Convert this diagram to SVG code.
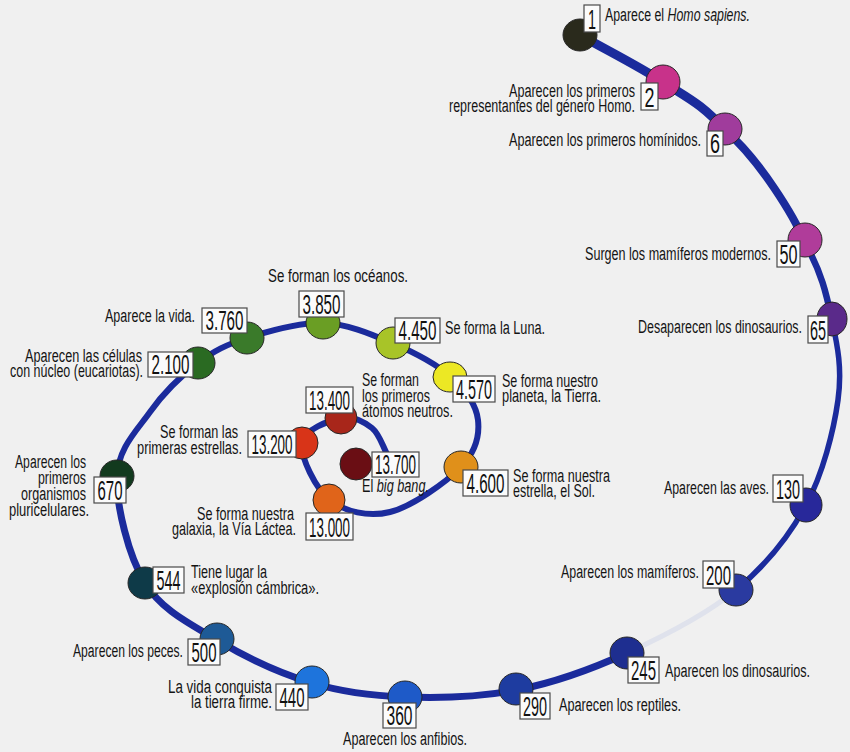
<svg xmlns="http://www.w3.org/2000/svg" width="850" height="752" viewBox="0 0 850 752">
<style>
.lbl{font-family:'Liberation Sans',Arial,sans-serif;font-size:18px;fill:#141414}
.it{font-style:italic}
.num{font-family:'Liberation Sans',Arial,sans-serif;font-size:28px;fill:#111;text-anchor:middle}
.box{fill:#fbfbfb;stroke:#4a4a4a;stroke-width:1.2}
.dot{stroke:#262626;stroke-width:1}
.ln{fill:none;stroke:#1b2b9c;stroke-linecap:butt}
.end{text-anchor:end}
</style>
<rect width="850" height="752" fill="#f0f0f0"/>
<g id="connectors">
<path class="ln" stroke-width="6" d="M388,456 C382.7,446.7 379.8,434.3 372,428 C364.2,421.7 352.7,415.5 341,418 C329.3,420.5 303.8,429.3 302,443 C300.2,456.7 315.3,488.5 330,500 C344.7,511.5 368.2,517.5 390,512 C411.8,506.5 446.3,482.3 461,467 C475.7,451.7 479.7,435 478,420 C476.3,405 465.3,389.8 451,377 C436.7,364.2 413.3,352 392,343 C370.7,334 347.2,323.8 323,323 C298.8,322.2 267.8,331.3 247,338 C226.2,344.7 214.2,350.7 198,363 C181.8,375.3 163.5,393 150,412 C136.5,431 117.8,448.5 117,477"/>
<path class="ln" stroke-width="7" d="M117,477 C116.2,505.5 128.3,555.8 145,583 C161.7,610.2 189.2,623.3 217,640 C244.8,656.7 280.7,673.5 312,683 C343.3,692.5 370.8,695.8 405,697 C439.2,698.2 480,697.3 517,690 C554,682.7 590.5,669.7 627,653"/>
<path fill="none" stroke="#dfe2ec" stroke-width="5" d="M627,653 C663.5,636.3 706.2,614.7 736,590"/>
<path class="ln" stroke-width="5.5" d="M736,590 C765.8,565.3 789,536.7 806,505 C823,473.3 833.7,430.8 838,400 C842.3,369.2 837.7,346.5 832,320"/>
<path class="ln" stroke-width="6.5" d="M832,320 C826.3,293.5 821.8,272.7 804,241"/>
<path class="ln" stroke-width="8" d="M804,241 C795,218 760,160 725,130"/>
<path class="ln" stroke-width="9" d="M725,130 C701.5,103.5 687.2,97.8 663,82 C638.8,66.2 607.7,50.7 580,35"/>
</g>
<g id="n1"><ellipse class="dot" cx="580" cy="35" rx="17" ry="16" fill="#2a2a1c"/><rect class="box" x="584" y="5" width="16" height="27"/><text class="num" x="592" y="29" textLength="8" lengthAdjust="spacingAndGlyphs">1</text><text class="lbl" x="605" y="21" textLength="145" lengthAdjust="spacingAndGlyphs">Aparece el <tspan class="it">Homo sapiens.</tspan></text></g>
<g id="n2"><ellipse class="dot" cx="663" cy="82" rx="17" ry="17" fill="#c8328a"/><rect class="box" x="641" y="83" width="17" height="27"/><text class="num" x="649.5" y="107" textLength="10" lengthAdjust="spacingAndGlyphs">2</text><text class="lbl end" x="635" y="97" textLength="126" lengthAdjust="spacingAndGlyphs">Aparecen los primeros</text><text class="lbl end" x="635" y="112" textLength="186" lengthAdjust="spacingAndGlyphs">representantes del género Homo.</text></g>
<g id="n6"><ellipse class="dot" cx="725" cy="129" rx="17" ry="16" fill="#a03c9c"/><rect class="box" x="707" y="131" width="16" height="25"/><text class="num" x="715" y="153" textLength="10" lengthAdjust="spacingAndGlyphs">6</text><text class="lbl end" x="701" y="146" textLength="192" lengthAdjust="spacingAndGlyphs">Aparecen los primeros homínidos.</text></g>
<g id="n50"><ellipse class="dot" cx="805" cy="240" rx="17" ry="17" fill="#b03c9a"/><rect class="box" x="777" y="241" width="23" height="26"/><text class="num" x="788.5" y="264" textLength="18" lengthAdjust="spacingAndGlyphs">50</text><text class="lbl end" x="771" y="260" textLength="186" lengthAdjust="spacingAndGlyphs">Surgen los mamíferos modernos.</text></g>
<g id="n65"><ellipse class="dot" cx="832" cy="319" rx="15" ry="17" fill="#5a2a8a"/><rect class="box" x="808" y="316" width="20" height="27"/><text class="num" x="818" y="340" textLength="16" lengthAdjust="spacingAndGlyphs">65</text><text class="lbl end" x="802" y="333" textLength="164" lengthAdjust="spacingAndGlyphs">Desaparecen los dinosaurios.</text></g>
<g id="n130"><ellipse class="dot" cx="806" cy="505" rx="16" ry="17" fill="#28289a"/><rect class="box" x="773" y="475" width="30" height="27"/><text class="num" x="788" y="499" textLength="24" lengthAdjust="spacingAndGlyphs">130</text><text class="lbl end" x="769" y="494" textLength="105" lengthAdjust="spacingAndGlyphs">Aparecen las aves.</text></g>
<g id="n200"><ellipse class="dot" cx="736" cy="590" rx="17" ry="16" fill="#2a3aa0"/><rect class="box" x="703" y="561" width="31" height="27"/><text class="num" x="718.5" y="585" textLength="25" lengthAdjust="spacingAndGlyphs">200</text><text class="lbl end" x="699" y="578" textLength="138" lengthAdjust="spacingAndGlyphs">Aparecen los mamíferos.</text></g>
<g id="n245"><ellipse class="dot" cx="627" cy="653" rx="17" ry="16" fill="#1e2e90"/><rect class="box" x="628" y="657" width="31" height="26"/><text class="num" x="643.5" y="680" textLength="25" lengthAdjust="spacingAndGlyphs">245</text><text class="lbl" x="665" y="677" textLength="145" lengthAdjust="spacingAndGlyphs">Aparecen los dinosaurios.</text></g>
<g id="n290"><ellipse class="dot" cx="516" cy="689" rx="17" ry="16" fill="#1e3ca0"/><rect class="box" x="520" y="693" width="30" height="26"/><text class="num" x="535" y="716" textLength="24" lengthAdjust="spacingAndGlyphs">290</text><text class="lbl" x="559" y="711" textLength="122" lengthAdjust="spacingAndGlyphs">Aparecen los reptiles.</text></g>
<g id="n360"><ellipse class="dot" cx="405" cy="697" rx="17" ry="16" fill="#1e5ac8"/><rect class="box" x="383" y="703" width="33" height="25"/><text class="num" x="399.5" y="725" textLength="26" lengthAdjust="spacingAndGlyphs">360</text><text class="lbl" x="343" y="745" textLength="124" lengthAdjust="spacingAndGlyphs">Aparecen los anfibios.</text></g>
<g id="n440"><ellipse class="dot" cx="312" cy="682" rx="17" ry="16" fill="#1e74dc"/><rect class="box" x="276" y="684" width="32" height="26"/><text class="num" x="292" y="707" textLength="25" lengthAdjust="spacingAndGlyphs">440</text><text class="lbl end" x="272" y="693" textLength="104" lengthAdjust="spacingAndGlyphs">La vida conquista</text><text class="lbl end" x="272" y="708" textLength="81" lengthAdjust="spacingAndGlyphs">la tierra firme.</text></g>
<g id="n500"><ellipse class="dot" cx="217" cy="639" rx="17" ry="16" fill="#1e5a96"/><rect class="box" x="188" y="639" width="32" height="26"/><text class="num" x="204" y="662" textLength="25" lengthAdjust="spacingAndGlyphs">500</text><text class="lbl end" x="183" y="657" textLength="110" lengthAdjust="spacingAndGlyphs">Aparecen los peces.</text></g>
<g id="n544"><ellipse class="dot" cx="145" cy="583" rx="17" ry="16" fill="#0e3a48"/><rect class="box" x="153" y="567" width="31" height="26"/><text class="num" x="168.5" y="590" textLength="24" lengthAdjust="spacingAndGlyphs">544</text><text class="lbl" x="191" y="578" textLength="76" lengthAdjust="spacingAndGlyphs">Tiene lugar la</text><text class="lbl" x="191" y="594" textLength="128" lengthAdjust="spacingAndGlyphs">«explosión cámbrica».</text></g>
<g id="n670"><ellipse class="dot" cx="117" cy="476" rx="17" ry="16" fill="#123a1e"/><rect class="box" x="94" y="477" width="32" height="26"/><text class="num" x="110" y="500" textLength="25" lengthAdjust="spacingAndGlyphs">670</text><text class="lbl end" x="86" y="468" textLength="71" lengthAdjust="spacingAndGlyphs">Aparecen los</text><text class="lbl end" x="86" y="484" textLength="48" lengthAdjust="spacingAndGlyphs">primeros</text><text class="lbl end" x="86" y="500" textLength="65" lengthAdjust="spacingAndGlyphs">organismos</text><text class="lbl end" x="89" y="516" textLength="80" lengthAdjust="spacingAndGlyphs">pluricelulares.</text></g>
<g id="n2100"><ellipse class="dot" cx="198" cy="363" rx="17" ry="16" fill="#2a6a22"/><rect class="box" x="148" y="352" width="45" height="25"/><text class="num" x="170.5" y="374" textLength="38" lengthAdjust="spacingAndGlyphs">2.100</text><text class="lbl end" x="142" y="362" textLength="117" lengthAdjust="spacingAndGlyphs">Aparecen las células</text><text class="lbl end" x="143" y="377" textLength="133" lengthAdjust="spacingAndGlyphs">con núcleo (eucariotas).</text></g>
<g id="n3760"><ellipse class="dot" cx="247" cy="338" rx="17" ry="16" fill="#3a7a2a"/><rect class="box" x="202" y="308" width="45" height="25"/><text class="num" x="224.5" y="330" textLength="38" lengthAdjust="spacingAndGlyphs">3.760</text><text class="lbl end" x="195" y="322" textLength="90" lengthAdjust="spacingAndGlyphs">Aparece la vida.</text></g>
<g id="n3850"><ellipse class="dot" cx="323" cy="323" rx="17" ry="16" fill="#6a9e24"/><rect class="box" x="299" y="291" width="45" height="26"/><text class="num" x="321.5" y="314" textLength="38" lengthAdjust="spacingAndGlyphs">3.850</text><text class="lbl" x="268" y="282" textLength="140" lengthAdjust="spacingAndGlyphs">Se forman los océanos.</text></g>
<g id="n4450"><ellipse class="dot" cx="393" cy="343" rx="17" ry="16" fill="#a8c428"/><rect class="box" x="395" y="318" width="45" height="25"/><text class="num" x="417.5" y="340" textLength="38" lengthAdjust="spacingAndGlyphs">4.450</text><text class="lbl" x="445" y="334" textLength="100" lengthAdjust="spacingAndGlyphs">Se forma la Luna.</text></g>
<g id="n4570"><ellipse class="dot" cx="450" cy="377" rx="17" ry="15" fill="#ece824"/><rect class="box" x="453" y="376" width="42" height="26"/><text class="num" x="474" y="399" textLength="36" lengthAdjust="spacingAndGlyphs">4.570</text><text class="lbl" x="502" y="387" textLength="96" lengthAdjust="spacingAndGlyphs">Se forma nuestro</text><text class="lbl" x="502" y="402" textLength="99" lengthAdjust="spacingAndGlyphs">planeta, la Tierra.</text></g>
<g id="n4600"><ellipse class="dot" cx="461" cy="467" rx="17" ry="16" fill="#e0901a"/><rect class="box" x="463" y="470" width="45" height="26"/><text class="num" x="485.5" y="493" textLength="38" lengthAdjust="spacingAndGlyphs">4.600</text><text class="lbl" x="513" y="482" textLength="97" lengthAdjust="spacingAndGlyphs">Se forma nuestra</text><text class="lbl" x="513" y="497" textLength="82" lengthAdjust="spacingAndGlyphs">estrella, el Sol.</text></g>
<g id="n13000"><ellipse class="dot" cx="329" cy="500" rx="16" ry="16" fill="#e0641a"/><rect class="box" x="306" y="513" width="47" height="27"/><text class="num" x="329.5" y="537" textLength="41" lengthAdjust="spacingAndGlyphs">13.000</text><text class="lbl end" x="294" y="520" textLength="97" lengthAdjust="spacingAndGlyphs">Se forma nuestra</text><text class="lbl end" x="296" y="535" textLength="124" lengthAdjust="spacingAndGlyphs">galaxia, la Vía Láctea.</text></g>
<g id="n13200"><ellipse class="dot" cx="302" cy="443" rx="16" ry="16" fill="#d83418"/><rect class="box" x="248" y="431" width="48" height="26"/><text class="num" x="272" y="454" textLength="41" lengthAdjust="spacingAndGlyphs">13.200</text><text class="lbl end" x="238" y="438" textLength="78" lengthAdjust="spacingAndGlyphs">Se forman las</text><text class="lbl end" x="242" y="454" textLength="105" lengthAdjust="spacingAndGlyphs">primeras estrellas.</text></g>
<g id="n13400"><ellipse class="dot" cx="341" cy="418" rx="16" ry="16" fill="#a8261a"/><rect class="box" x="306" y="387" width="47" height="26"/><text class="num" x="329.5" y="410" textLength="41" lengthAdjust="spacingAndGlyphs">13.400</text><text class="lbl" x="362" y="386" textLength="57" lengthAdjust="spacingAndGlyphs">Se forman</text><text class="lbl" x="362" y="401.5" textLength="68" lengthAdjust="spacingAndGlyphs">los primeros</text><text class="lbl" x="362" y="417" textLength="91" lengthAdjust="spacingAndGlyphs">átomos neutros.</text></g>
<g id="n13700"><ellipse class="dot" cx="356" cy="464" rx="16" ry="16" fill="#6a0e14"/><rect class="box" x="372" y="452" width="47" height="25"/><text class="num" x="395.5" y="474" textLength="41" lengthAdjust="spacingAndGlyphs">13.700</text><text class="lbl" x="362" y="492" textLength="67" lengthAdjust="spacingAndGlyphs">El <tspan class="it">big bang.</tspan></text></g>
</svg>
